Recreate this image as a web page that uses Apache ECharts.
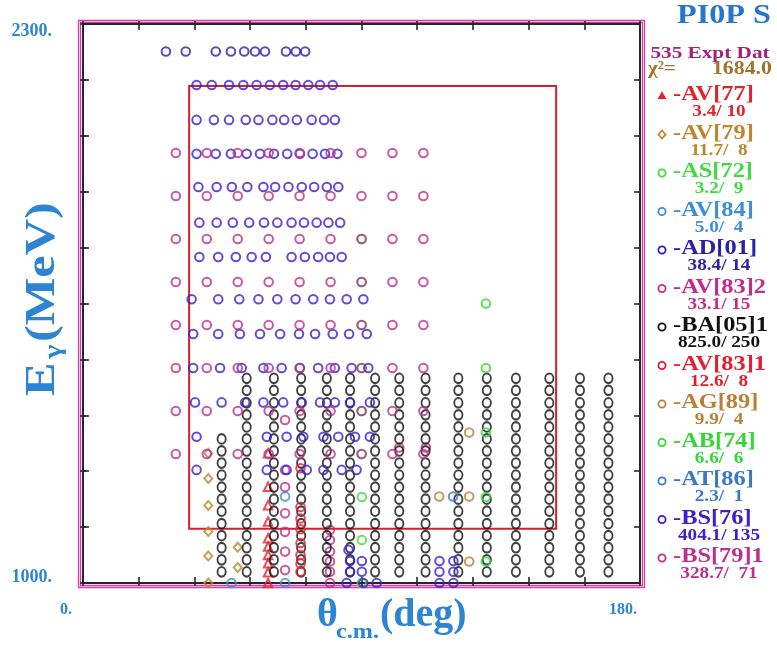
<!DOCTYPE html>
<html>
<head>
<meta charset="utf-8">
<title>PI0P S</title>
<script src="https://cdn.jsdelivr.net/npm/echarts@6.0.0/dist/echarts.min.js"></script>
<style>
  html, body { margin: 0; padding: 0; background: #ffffff; }
  #chart { width: 777px; height: 645px; }
</style>
</head>
<body>
<div id="chart"></div>
<script>
// ---- axes -------------------------------------------------------------
const thetaTicks = [0, 18, 36, 54, 72, 90, 108, 126, 144, 162, 180];
const energyTicks = [1000, 1130, 1260, 1390, 1520, 1650, 1780, 1910, 2040, 2170, 2300];
const thetaLabels = [0, 180];
const energyLabels = [1000, 2300];

// ---- data sets: [theta c.m. (deg), E gamma (MeV)] ----------------------
const av77 = [[59.8, 1302], [59.8, 1224], [59.8, 1181], [59.8, 1143], [59.8, 1104],
              [59.8, 1085], [59.8, 1065], [59.8, 1046], [59.8, 1025], [59.8, 1000]];
const av79 = [[40.5, 1302], [40.5, 1243], [40.5, 1180], [40.5, 1120], [40.5, 1063],
              [40.5, 1000], [50.0, 1083], [50.0, 1036]];
const as72 = [[90.1, 1800], [90.1, 1700], [90.1, 1600], [90.1, 1500], [90.1, 1400],
              [90.1, 1300], [90.1, 1200], [90.1, 1100], [90.1, 1000]];
const av84 = [[48.0, 1000], [65.3, 1000], [65.3, 1201]];
const ad01 = [[26.8, 2236], [33.2, 2236], [42.9, 2236], [47.8, 2236], [52.1, 2236],
              [55.6, 2236], [58.8, 2236], [65.6, 2236], [68.8, 2236], [71.8, 2236]];
const av83b = [[65.3, 1379], [65.3, 1263], [65.3, 1223], [65.3, 1162], [65.3, 1119],
               [65.3, 1073], [65.3, 1030], [79.8, 1123], [79.8, 1100], [79.8, 1073],
               [79.8, 1050], [79.8, 1026], [79.8, 1000], [102.2, 1315], [110.8, 1315]];
// BA[05]1: angular bins and energy bins; each column runs from the lowest bin up to its top energy
const ba05Theta = [44.8, 52.9, 61.7, 70.5, 78.8, 86.3, 94.4, 102.2, 110.7, 121.3, 130.5, 139.9, 150.7, 160.6, 169.8];
const ba05Energy = [1026, 1054, 1082, 1110, 1138, 1167, 1195, 1223, 1251, 1279, 1307, 1335, 1363, 1391, 1419, 1448, 1476];
const ba05Top = [1335, 1476, 1476, 1476, 1476, 1476, 1476, 1476, 1476, 1476, 1476, 1476, 1476, 1476, 1476];
const av83a = [[70.3, 1267], [70.3, 1177], [70.3, 1150], [70.3, 1125], [70.3, 1093],
               [70.3, 1065], [70.3, 1045], [70.3, 1026]];
const ag89 = [[124.8, 1350], [115.1, 1201], [124.8, 1201], [124.8, 1050]];
const ab74 = [[130.2, 1650], [130.2, 1500], [130.2, 1350], [130.2, 1200], [130.2, 1050]];
const at86 = [[119.6, 1201]];
// BS[76]: rows of angles per photon energy
const bs76Rows = [
  [2158, [36.7, 41.6, 47.2, 51.8, 56.1, 60.4, 64.7, 68.7, 72.8, 76.6, 80.7]],
  [2077, [36.7, 42.3, 47.2, 52.6, 56.7, 61.2, 65.0, 69.1, 73.9, 77.9, 81.4]],
  [1998, [36.7, 42.9, 47.8, 52.9, 57.2, 61.7, 66.0, 70.1, 74.2, 78.2, 82.2]],
  [1921, [37.3, 43.2, 48.1, 53.1, 58.3, 62.1, 66.4, 70.7, 74.7, 78.8, 82.5]],
  [1838, [37.6, 43.2, 48.4, 53.7, 58.5, 62.8, 67.4, 71.4, 75.5, 79.3, 83.1]],
  [1758, [37.6, 43.7, 49.4, 54.5, 59.1, 67.4, 71.7, 76.0, 79.8, 83.6]],
  [1660, [35.1, 43.7, 50.5, 56.7, 62.8, 68.7, 74.4, 79.8, 85.2, 90.6]],
  [1579, [35.6, 43.7, 50.7, 57.2, 63.7, 69.8, 75.0, 80.7, 86.0, 91.7]],
  [1500, [35.6, 44.3, 51.3, 58.3, 64.2, 70.1, 76.0, 81.4, 86.8, 92.2]],
  [1420, [36.2, 44.8, 52.4, 58.3, 64.7, 70.7, 76.6, 81.4, 86.3, 92.7]],
  [1340, [36.7, 59.4, 65.8, 71.2, 77.7, 82.5, 87.9, 92.7]],
  [1263, [36.7, 59.4, 65.8, 72.3, 77.7, 83.6, 88.4]]
];
const bs76Low = [[85.8, 1077], [86.3, 1051], [90.1, 1051], [86.3, 1026], [90.1, 1026],
                 [85.2, 1000], [90.6, 1000], [94.9, 1000], [115.2, 1051], [119.7, 1051],
                 [115.2, 1026], [119.7, 1026], [115.2, 1000], [119.7, 1000]];
// BS[79]1: regular angle / energy grid
const bs79Theta = [30, 40, 50, 60, 70, 80, 90, 100, 110];
const bs79Energy = [2000, 1900, 1800, 1700, 1600, 1500, 1400, 1300];

// fit window drawn as the red frame
const fitTheta = [34.3, 152.9];
const fitEnergy = [1126, 2156];

// legend texts
const expCount = '535 Expt Dat';
const chiTotal = '1684.0';

// ---- assemble point lists --------------------------------------------
const ba05 = [];
ba05Theta.forEach((t, i) => {
  ba05Energy.forEach(e => { if (e <= ba05Top[i]) ba05.push([t, e]); });
});
const bs76 = [];
bs76Rows.forEach(([e, angles]) => angles.forEach(t => bs76.push([t, e])));
bs76Low.forEach(p => bs76.push(p));
const bs79 = [];
bs79Energy.forEach(e => bs79Theta.forEach(t => bs79.push([t, e])));

const seriesDefs = [
  { name: '-AV[77]',  stat: '3.4/ 10',     color: '#e3222c', symbol: 'triangle', data: av77 },
  { name: '-AV[79]',  stat: '11.7/  8',    color: '#c0842c', symbol: 'diamond',  data: av79 },
  { name: '-AS[72]',  stat: '3.2/  9',     color: '#3edc3e', symbol: 'circle',   data: as72 },
  { name: '-AV[84]',  stat: '5.0/  4',     color: '#3b8fd6', symbol: 'circle',   data: av84 },
  { name: '-AD[01]',  stat: '38.4/ 14',    color: '#2a22a8', symbol: 'circle',   data: ad01 },
  { name: '-AV[83]2', stat: '33.1/ 15',    color: '#c42a8c', symbol: 'circle',   data: av83b },
  { name: '-BA[05]1', stat: '825.0/ 250',  color: '#111111', symbol: 'circle',   data: ba05, tall: true },
  { name: '-AV[83]1', stat: '12.6/  8',    color: '#e41e30', symbol: 'circle',   data: av83a },
  { name: '-AG[89]',  stat: '9.9/  4',     color: '#b98036', symbol: 'circle',   data: ag89 },
  { name: '-AB[74]',  stat: '6.6/  6',     color: '#36d636', symbol: 'circle',   data: ab74 },
  { name: '-AT[86]',  stat: '2.3/  1',     color: '#3a78c8', symbol: 'circle',   data: at86 },
  { name: '-BS[76]',  stat: '404.1/ 135',  color: '#3a20cf', symbol: 'circle',   data: bs76 },
  { name: '-BS[79]1', stat: '328.7/  71',  color: '#bb2f8e', symbol: 'circle',   data: bs79 }
];

// ---- styling ----------------------------------------------------------
const SERIF = '"Liberation Serif", "DejaVu Serif", serif';
const BLUE = '#2d84d2';
const AXIS = '#262626';

function symbolSize(d) {
  if (d.symbol === 'triangle') return 8.5;
  if (d.symbol === 'diamond') return [8, 9];
  if (d.tall) return [8.2, 9.6];
  return 8.6;
}

const series = seriesDefs.map(d => ({
  type: 'scatter',
  name: d.name,
  data: d.data,
  symbol: d.symbol,
  symbolSize: symbolSize(d),
  itemStyle: { color: 'rgba(255,255,255,0)', borderColor: d.color, borderWidth: 2 },
  emphasis: { disabled: true },
  silent: true
}));
// red frame of the fit window
series.push({
  type: 'scatter',
  name: 'window',
  data: [],
  silent: true,
  markArea: {
    silent: true,
    itemStyle: { color: 'rgba(0,0,0,0)', borderColor: '#d4202a', borderWidth: 2 },
    data: [[{ coord: [fitTheta[0], fitEnergy[0]] }, { coord: [fitTheta[1], fitEnergy[1]] }]]
  }
});

const tickIn = { show: true, inside: true, length: 6, lineStyle: { color: AXIS, width: 1.6 } };
const tickOut = { show: true, inside: false, length: 3, lineStyle: { color: AXIS, width: 1.6 } };
const lineStyle = { show: true, onZero: false, lineStyle: { color: AXIS, width: 2 } };
const noLine = { show: false };
const labelFont = { color: BLUE, fontFamily: SERIF, fontWeight: 'bold' };

function thetaAxis(pos, tick, line, label) {
  return {
    type: 'value', min: 0, max: 180, position: pos,
    axisLine: line,
    axisTick: Object.assign({ customValues: thetaTicks }, tick),
    splitLine: { show: false },
    axisLabel: label || { show: false }
  };
}
function energyAxis(pos, tick, line, label) {
  return {
    type: 'value', min: 1000, max: 2300, position: pos,
    axisLine: line,
    axisTick: Object.assign({ customValues: energyTicks }, tick),
    splitLine: { show: false },
    axisLabel: label || { show: false }
  };
}

const option = {
  animation: false,
  backgroundColor: '#ffffff',
  grid: { left: 83, top: 24, width: 557, height: 559, outerBoundsMode: 'none', containLabel: false },
  xAxis: [
    thetaAxis('bottom', tickIn, lineStyle, {
      customValues: thetaLabels, margin: 19, align: 'right',
      formatter: v => (v === 0 ? '{a|' : '{b|') + v + '.}',
      rich: {
        a: Object.assign({ fontSize: 16, padding: [0, 11, 0, 0] }, labelFont),
        b: Object.assign({ fontSize: 16, padding: [0, 3, 0, 0] }, labelFont)
      }
    }),
    thetaAxis('top', tickIn, lineStyle),
    thetaAxis('bottom', tickOut, noLine),
    thetaAxis('top', tickOut, noLine)
  ],
  yAxis: [
    energyAxis('left', tickIn, lineStyle, {
      customValues: energyLabels, margin: 31,
      formatter: v => (v === 2300 ? '{hi|' : '{lo|') + v + '.}',
      rich: {
        hi: Object.assign({ fontSize: 18, padding: [15, 0, 0, 0] }, labelFont),
        lo: Object.assign({ fontSize: 18, padding: [0, 0, 11, 0] }, labelFont)
      }
    }),
    energyAxis('right', tickIn, lineStyle),
    energyAxis('left', tickOut, noLine),
    energyAxis('right', tickOut, noLine)
  ],
  series: series
};

// ---- frame, titles and legend panel ------------------------------------
const MAGENTA = '#d63fa8';
const g = [];
g.push({ type: 'rect', shape: { x: 78.5, y: 20.5, width: 566, height: 567 },
         style: { fill: 'none', stroke: MAGENTA, lineWidth: 1.3 }, silent: true });
g.push({ type: 'rect', shape: { x: 80.5, y: 22.5, width: 562, height: 563 },
         style: { fill: 'none', stroke: MAGENTA, lineWidth: 1.3 }, silent: true });

function txt(x, y, text, size, fill, align, scale) {
  return {
    type: 'text', x: x, y: y, scaleX: scale || 1, silent: true,
    style: { text: text, font: 'bold ' + size + 'px ' + SERIF, fill: fill,
             textAlign: align || 'left', textVerticalAlign: 'middle' }
  };
}

// x axis title
g.push(txt(317, 616, 'θ', 40, BLUE, 'left'));
g.push(txt(336, 632, 'c.m.', 22, BLUE, 'left', 1.1));
g.push(txt(380, 616, '(deg)', 40, BLUE, 'left'));

// y axis title (rotated, stretched along the text direction)
g.push({
  type: 'group', x: 43, y: 396, rotation: Math.PI / 2, scaleX: 1.2, silent: true,
  children: [
    txt(0, 0, 'E', 42, BLUE, 'left'),
    txt(31, 12, 'γ', 25, BLUE, 'left'),
    txt(45, 0, '(MeV)', 42, BLUE, 'left')
  ]
});

// panel header
g.push(txt(724, 16, 'PI0P S', 28, '#2477cc', 'center', 1.15));
g.push(txt(710, 54, expCount, 17, '#a3207c', 'center', 1.25));
g.push(txt(648, 69, 'χ²=', 19, '#a3722c', 'left', 1.1));
g.push(txt(772, 69, chiTotal, 19, '#a3722c', 'right', 1.15));

// legend entries
seriesDefs.forEach((d, i) => {
  const y = 95 + i * 38.5;
  const sx = 662, sy = y + 1;
  if (d.symbol === 'triangle') {
    g.push({ type: 'polygon', silent: true,
             shape: { points: [[sx, sy - 3.5], [sx + 3.5, sy + 2.5], [sx - 3.5, sy + 2.5]] },
             style: { fill: d.color, stroke: d.color, lineWidth: 1.2 } });
  } else if (d.symbol === 'diamond') {
    g.push({ type: 'polygon', silent: true,
             shape: { points: [[sx, sy - 4], [sx + 3.5, sy], [sx, sy + 4], [sx - 3.5, sy]] },
             style: { fill: 'none', stroke: d.color, lineWidth: 1.8 } });
  } else {
    g.push({ type: 'circle', silent: true, shape: { cx: sx, cy: sy, r: 3.6 },
             style: { fill: 'none', stroke: d.color, lineWidth: 1.8 } });
  }
  g.push(txt(673, y, d.name, 20, d.color, 'left', 1.22));
  g.push(txt(719, y + 17, d.stat, 16, d.color, 'center', 1.2));
});

option.graphic = { elements: g };

const chart = echarts.init(document.getElementById('chart'), null, { renderer: 'canvas' });
chart.setOption(option);
</script>
</body>
</html>
